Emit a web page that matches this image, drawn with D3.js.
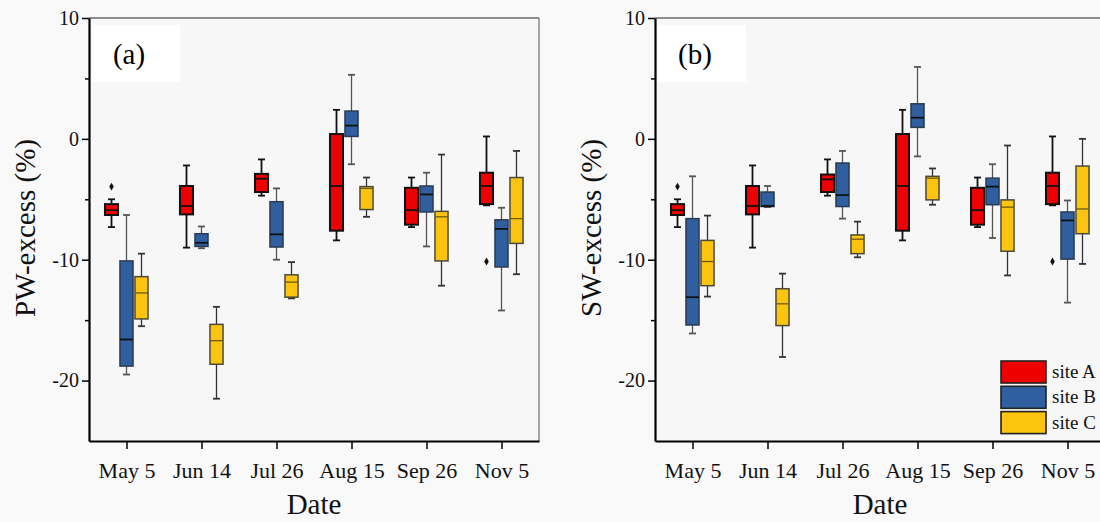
<!DOCTYPE html>
<html>
<head>
<meta charset="utf-8">
<script src="https://cdn.jsdelivr.net/npm/d3@7"></script>
<style>
  body { margin: 0; background: #f9f9f9; }
  svg { display: block; font-family: "Liberation Serif", "Times New Roman", serif; }
  .axis path, .axis line { stroke: #000; }
  .axis text { fill: #111; font-family: "Liberation Serif", "Times New Roman", serif; }
</style>
</head>
<body>
<svg id="chart" width="1100" height="522"></svg>
<script>
// sampling dates and sites
var dates = ["May 5", "Jun 14", "Jul 26", "Aug 15", "Sep 26", "Nov 5"];
var sites = ["site A", "site B", "site C"];
var siteColors = ["#ec0000", "#2f5f9f", "#fcc40f"];
var yMajor = [-20, -10, 0, 10];
var yMinor = [-15, -5, 5];

// box stats per date: [lower whisker, q1, median, q3, upper whisker]
var pwSiteA = [[-7.3, -6.3, -5.9, -5.4, -5.0], [-9.0, -6.25, -5.55, -3.9, -2.2], [-4.7, -4.4, -3.3, -2.9, -1.7],
               [-8.4, -7.6, -3.9, 0.4, 2.4], [-7.3, -7.1, -5.9, -4.05, -3.2], [-5.5, -5.4, -3.9, -2.8, 0.2]];
var pwSiteB = [[-19.5, -18.8, -16.6, -10.1, -6.3], [-9.05, -8.9, -8.6, -7.85, -7.25], [-10.0, -8.95, -7.9, -5.2, -4.1],
               [-2.1, 0.2, 1.1, 2.3, 5.3], [-8.9, -6.05, -4.6, -3.9, -2.8], [-14.2, -10.6, -7.45, -6.7, -5.7]];
var pwSiteC = [[-15.5, -14.9, -12.75, -11.4, -9.5], [-21.5, -18.65, -16.7, -15.35, -13.9], [-13.2, -13.1, -11.85, -11.25, -10.2],
               [-6.45, -5.85, -4.1, -3.95, -3.2], [-12.15, -10.1, -6.45, -6.0, -1.3], [-11.2, -8.65, -6.6, -3.2, -1.0]];
var pwOutliers = [{date: "May 5", site: "site A", v: -3.95}, {date: "Nov 5", site: "site A", v: -10.15}];

var swSiteA = [[-7.3, -6.3, -5.9, -5.4, -5.0], [-9.0, -6.25, -5.55, -3.9, -2.2], [-4.7, -4.4, -3.35, -2.95, -1.7],
               [-8.4, -7.6, -3.9, 0.4, 2.4], [-7.3, -7.1, -5.9, -4.05, -3.2], [-5.5, -5.4, -3.9, -2.8, 0.2]];
var swSiteB = [[-16.1, -15.4, -13.1, -6.6, -3.1], [-5.65, -5.6, -5.55, -4.4, -3.9], [-6.6, -5.6, -4.65, -2.0, -1.0],
               [-1.45, 0.95, 1.75, 2.9, 5.95], [-8.2, -5.45, -3.95, -3.25, -2.1], [-13.55, -9.95, -6.75, -6.05, -5.1]];
var swSiteC = [[-13.05, -12.15, -10.15, -8.4, -6.35], [-18.05, -15.45, -13.65, -12.4, -11.15], [-9.8, -9.5, -8.3, -7.95, -6.85],
               [-5.45, -5.05, -3.25, -3.1, -2.45], [-11.3, -9.3, -5.65, -5.05, -0.55], [-10.35, -7.85, -5.8, -2.25, 0.0]];
var swOutliers = [{date: "May 5", site: "site A", v: -3.95}, {date: "Nov 5", site: "site A", v: -10.15}];

var svg = d3.select("#chart");
var top_ = 18, bottom = 441;

var y = d3.scaleLinear().domain([-25, 10]).range([bottom, top_]);

var boxStroke = ["#111", "#2a3a50", "#4a4a3a"];
var medianColor = ["#111", "#111", "#6e5a10"];
var whiskerColor = ["#111", "#555", "#333"];

function drawPanel(left, right, stats, outliers, label, yLabel, clipRight) {
  var x = d3.scalePoint().domain(dates).range([left, right]).padding(0.5);
  var off = d3.scaleBand().domain(sites).range([-22.5, 22.5]);
  var bw = off.bandwidth() * 0.87;

  var g = svg.append("g");
  var visRight = Math.min(right, clipRight);

  g.append("rect")
    .attr("x", left).attr("y", top_)
    .attr("width", visRight - left).attr("height", bottom - top_)
    .attr("fill", "#f7f7f7");

  // white patch behind the panel label
  g.append("rect")
    .attr("x", left + 3).attr("y", top_ + 7)
    .attr("width", 88).attr("height", 57)
    .attr("fill", "#fff");

  // top / right frame (thin gray)
  g.append("line")
    .attr("x1", left).attr("x2", right).attr("y1", top_).attr("y2", top_)
    .attr("stroke", "#6a6a6a").attr("stroke-width", 1.5);
  g.append("line")
    .attr("x1", right).attr("x2", right).attr("y1", top_).attr("y2", bottom)
    .attr("stroke", "#8a8a8a").attr("stroke-width", 1.5);

  sites.forEach(function(s, si) {
    var data = stats[si].map(function(d, i) { return {date: dates[i], d: d}; });
    var bg = g.append("g").selectAll("g").data(data).enter().append("g")
      .attr("transform", function(d) { return "translate(" + (x(d.date) + off(s) + off.bandwidth() / 2) + ",0)"; });

    var wsw = si == 0 ? 1.8 : 1.3;
    // whiskers
    bg.append("line")
      .attr("y1", function(d) { return y(d.d[0]); })
      .attr("y2", function(d) { return y(d.d[1]); })
      .attr("stroke", whiskerColor[si]).attr("stroke-width", wsw);
    bg.append("line")
      .attr("y1", function(d) { return y(d.d[3]); })
      .attr("y2", function(d) { return y(d.d[4]); })
      .attr("stroke", whiskerColor[si]).attr("stroke-width", wsw);
    // caps
    [0, 4].forEach(function(k) {
      bg.append("line")
        .attr("x1", -3.5).attr("x2", 3.5)
        .attr("y1", function(d) { return y(d.d[k]); })
        .attr("y2", function(d) { return y(d.d[k]); })
        .attr("stroke", whiskerColor[si]).attr("stroke-width", 1.8);
    });
    // box
    bg.append("rect")
      .attr("x", -bw / 2).attr("width", bw)
      .attr("y", function(d) { return y(d.d[3]); })
      .attr("height", function(d) { return y(d.d[1]) - y(d.d[3]); })
      .attr("fill", siteColors[si])
      .attr("stroke", boxStroke[si]).attr("stroke-width", si == 0 ? 2 : 1.5);
    // median
    bg.append("line")
      .attr("x1", -bw / 2).attr("x2", bw / 2)
      .attr("y1", function(d) { return y(d.d[2]); })
      .attr("y2", function(d) { return y(d.d[2]); })
      .attr("stroke", medianColor[si]).attr("stroke-width", si == 2 ? 1.3 : 1.8);
  });

  // outliers
  g.selectAll("path.outlier").data(outliers).enter().append("path")
    .attr("class", "outlier")
    .attr("d", d3.symbol().type(d3.symbolDiamond).size(18))
    .attr("transform", function(d) {
      return "translate(" + (x(d.date) + off(d.site) + off.bandwidth() / 2) + "," + y(d.v) + ")";
    })
    .attr("fill", "#111");

  // axes
  var yAxis = g.append("g").attr("class", "axis")
    .attr("transform", "translate(" + left + ",0)")
    .call(d3.axisLeft(y).tickValues(yMajor).tickSize(7).tickSizeOuter(0).tickPadding(3)
      .tickFormat(function(d) { return d < 0 ? "-" + Math.abs(d) : d; }));
  yAxis.selectAll("text").style("font-size", "20px");
  yAxis.selectAll("line").attr("stroke-width", 1.5);
  yAxis.select(".domain").attr("stroke-width", 2.2);

  g.append("g").attr("class", "axis")
    .attr("transform", "translate(" + left + ",0)")
    .call(d3.axisLeft(y).tickValues(yMinor).tickSize(4).tickFormat(""))
    .call(function(a) { a.select(".domain").remove(); a.selectAll("line").attr("stroke-width", 1.5); });

  var xAxis = g.append("g").attr("class", "axis")
    .attr("transform", "translate(0," + bottom + ")")
    .call(d3.axisBottom(x).tickSize(8).tickSizeOuter(0).tickPadding(13));
  xAxis.selectAll("text").style("font-size", "22px");
  xAxis.selectAll("line").attr("stroke-width", 1.5);
  xAxis.select(".domain").attr("stroke-width", 2.2);

  // panel label
  g.append("text")
    .attr("x", left + 40).attr("y", 64)
    .attr("text-anchor", "middle")
    .style("font-size", "29px")
    .text(label);

  // axis titles
  g.append("text")
    .attr("transform", "translate(" + (left - 54) + "," + 228 + ") rotate(-90)")
    .attr("text-anchor", "middle")
    .style("font-size", "29px")
    .attr("fill", "#111")
    .text(yLabel);
  g.append("text")
    .attr("x", (left + right) / 2).attr("y", 514)
    .attr("text-anchor", "middle")
    .style("font-size", "29px")
    .attr("fill", "#111")
    .text("Date");
}

drawPanel(89, 539, [pwSiteA, pwSiteB, pwSiteC], pwOutliers, "(a)", "PW-excess (%)", 1100);
drawPanel(655, 1105, [swSiteA, swSiteB, swSiteC], swOutliers, "(b)", "SW-excess (%)", 1100);

// legend
var legend = svg.append("g").attr("transform", "translate(1001,361)");
var li = legend.selectAll("g").data(sites).enter().append("g")
  .attr("transform", function(d, i) { return "translate(0," + (i * 25.3) + ")"; });
li.append("rect")
  .attr("width", 45).attr("height", 22)
  .attr("fill", function(d, i) { return siteColors[i]; })
  .attr("stroke", "#222").attr("stroke-width", 1.6);
li.append("text")
  .attr("x", 51).attr("y", 17)
  .style("font-size", "19px")
  .attr("fill", "#111")
  .text(function(d) { return d; });
</script>
</body>
</html>
